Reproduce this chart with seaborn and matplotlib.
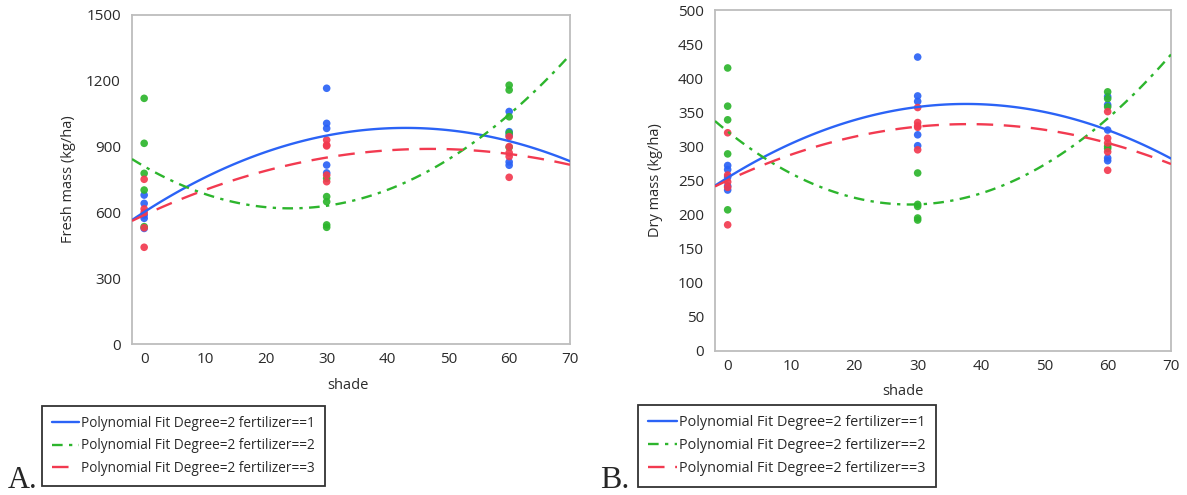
import numpy as np
import pandas as pd
import matplotlib
matplotlib.use("Agg")
import matplotlib.pyplot as plt
import seaborn as sns
from matplotlib.ticker import MultipleLocator

# ---------------- data ----------------
shade_levels = [0, 30, 60]
fertilizers = [1, 2, 3]

# Fresh mass (kg/ha): per fertilizer, one list of replicates per shade level
fresh_fert1 = [[679, 641, 588, 573, 527], [1166, 1006, 983, 816, 780], [1060, 968, 952, 830, 815]]
fresh_fert2 = [[1120, 915, 778, 702, 535], [755, 672, 649, 543, 532], [1180, 1158, 1036, 962, 897]]
fresh_fert3 = [[751, 616, 600, 530, 441], [930, 907, 903, 770, 740], [945, 900, 872, 855, 760]]

# Dry mass (kg/ha)
dry_fert1 = [[272, 266, 255, 242, 236], [431, 374, 366, 317, 301], [373, 361, 324, 283, 279]]
dry_fert2 = [[415, 359, 339, 289, 207], [261, 215, 212, 195, 192], [380, 370, 358, 300, 297]]
dry_fert3 = [[320, 258, 248, 240, 185], [357, 335, 330, 328, 295], [351, 312, 305, 292, 265]]

fresh_yticks = [0, 300, 600, 900, 1200, 1500]
dry_yticks = [0, 50, 100, 150, 200, 250, 300, 350, 400, 450, 500]
xticks = [0, 10, 20, 30, 40, 50, 60, 70]
legend_labels = ["Polynomial Fit Degree=2 fertilizer==1",
                 "Polynomial Fit Degree=2 fertilizer==2",
                 "Polynomial Fit Degree=2 fertilizer==3"]

# ---------------- styling ----------------
palette = {1: "#2B63F6", 2: "#2DB52D", 3: "#F23A50"}
line_styles = {1: "-", 2: (0, (4.5, 2.7, 1.4, 2.7)), 3: (0, (7, 4.5))}


def long_df(groups):
    rows = []
    for fert, data in zip(fertilizers, groups):
        for s, vals in zip(shade_levels, data):
            for v in vals:
                rows.append((s, fert, v))
    return pd.DataFrame(rows, columns=["shade", "fertilizer", "value"])


fresh_df = long_df([fresh_fert1, fresh_fert2, fresh_fert3])
dry_df = long_df([dry_fert1, dry_fert2, dry_fert3])

sns.set_style("white")
plt.rcParams["font.family"] = ["Open Sans", "DejaVu Sans"]

W, H = 1187, 495
fig = plt.figure(figsize=(W / 100, H / 100), dpi=100)
axA = fig.add_axes([132 / W, 1 - 344 / H, (570 - 132) / W, (344 - 15) / H])
axB = fig.add_axes([715 / W, 1 - 351 / H, (1171 - 715) / W, (351 - 10) / H])


def draw(ax, df, ylim, yticks, ylabel):
    ax.set_xlim(-2, 70)
    ax.set_ylim(*ylim)
    sns.scatterplot(data=df, x="shade", y="value", hue="fertilizer", palette=palette,
                    s=30, linewidth=0, alpha=0.92, legend=False, ax=ax, zorder=2)
    handles = []
    for f, lab in zip(fertilizers, legend_labels):
        sub = df[df["fertilizer"] == f]
        sns.regplot(data=sub, x="shade", y="value", order=2, ci=None, scatter=False,
                    truncate=False, color=palette[f], ax=ax,
                    line_kws=dict(lw=1.7, linestyle=line_styles[f], label=lab, zorder=3))
        handles.append(ax.get_lines()[-1])
    ax.set_xlim(-2, 70)
    ax.set_ylim(*ylim)
    ax.set_xticks(xticks)
    ax.set_yticks(yticks)
    for sp in ax.spines.values():
        sp.set_visible(True)
        sp.set_color("#BDBDBD")
        sp.set_linewidth(1.3)
    ax.tick_params(axis="both", which="major", direction="out", color="#9A9A9A",
                   width=1, labelsize=11, labelcolor="#2A2A2A", pad=2)
    ax.tick_params(axis="y", which="major", length=6)
    ax.tick_params(axis="x", which="major", length=4)
    ax.set_xlabel("shade", fontsize=10.5, color="#2A2A2A")
    ax.set_ylabel(ylabel, fontsize=10.5, color="#2A2A2A")
    return handles


hA = draw(axA, fresh_df, (0, 1500), fresh_yticks, "Fresh mass (kg/ha)")
hB = draw(axB, dry_df, (0, 500), dry_yticks, "Dry mass (kg/ha)")
axB.yaxis.set_minor_locator(MultipleLocator(25))
axB.tick_params(axis="y", which="minor", direction="out", length=3.5, width=1, color="#9A9A9A")

axA.xaxis.set_label_coords(0.493, -0.104)
axA.yaxis.set_label_coords(-0.128, 0.5)
axB.xaxis.set_label_coords(0.412, -0.098)
axB.yaxis.set_label_coords(-0.114, 0.5)

leg_kw = dict(loc="upper left", frameon=True, fancybox=False, edgecolor="#333333",
              framealpha=1, borderaxespad=0, handlelength=2.0, handletextpad=0.15,
              labelspacing=0.55, borderpad=0.72)
legA = fig.legend(hA, legend_labels, bbox_to_anchor=(42 / W, 1 - 406 / H), fontsize=9.8, **leg_kw)
legB = fig.legend(hB, legend_labels, bbox_to_anchor=(638 / W, 1 - 405 / H), fontsize=10.4, **leg_kw)
for lg in (legA, legB):
    lg.get_frame().set_linewidth(1.3)
    for t in lg.get_texts():
        t.set_color("#2A2A2A")

fig.text(8 / W, 1 - 488 / H, "A.", fontsize=22, family="Liberation Serif", va="baseline")
fig.text(600 / W, 1 - 488 / H, "B.", fontsize=23, family="Liberation Serif", va="baseline")

fig.savefig("out.png", dpi=100)
